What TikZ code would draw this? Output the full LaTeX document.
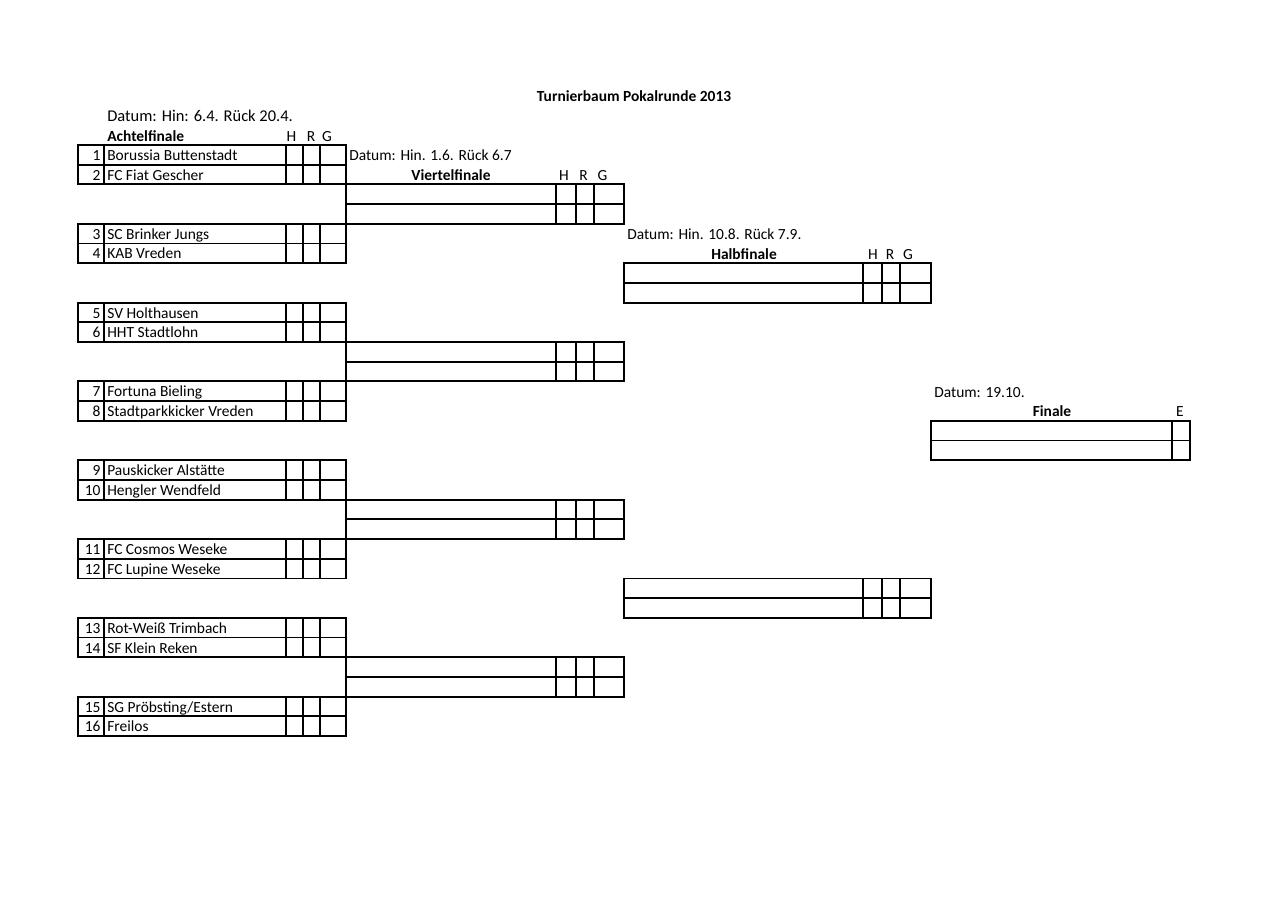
\documentclass[tikz,border=0pt]{standalone}
\usepackage{fontspec}
\setmainfont{Carlito}
\usepackage{tikz}
\usetikzlibrary{positioning}

\begin{document}
\begin{tikzpicture}[
  x=0.25mm, y=-4.925mm,
  font=\fontsize{11}{13}\selectfont,
  cell/.style={rectangle, draw, line width=1.3pt, inner sep=0pt, outer sep=0pt, anchor=north west, minimum height=4.925mm, minimum width=#1},
  txt/.style={anchor=base west, inner sep=0pt},
  numtxt/.style={anchor=base east, inner sep=0pt},
  hdr/.style={anchor=base, inner sep=0pt, font=\fontsize{11}{13}\selectfont\bfseries},
  hrg/.style={anchor=base, inner sep=0pt},
]
\useasboundingbox (0,-7.3604) rectangle (1279,38.528);

% ---- Title ----
\node[hdr] (title) at (634,-2.2) {Turnierbaum Pokalrunde 2013};

% ---- Achtelfinale (left) ----
\node[txt, font=\fontsize{11.7}{13}\selectfont] (af-date) at (107,-1.2) {Datum: Hin: 6.4. Rück 20.4.};
\node[txt, font=\fontsize{11}{13}\selectfont\bfseries] (af-head) at (107,-0.2) {Achtelfinale};
\node[hrg] (af-h) at (291.5,-0.2) {H};
\node[hrg] (af-r) at (311,-0.2) {R};
\node[hrg] (af-g) at (327,-0.2) {G};

\foreach \n/\team in {1/Borussia Buttenstadt, 2/FC Fiat Gescher, 3/SC Brinker Jungs, 4/KAB Vreden,
    5/SV Holthausen, 6/HHT Stadtlohn, 7/Fortuna Bieling, 8/Stadtparkkicker Vreden,
    9/Pauskicker Alstätte, 10/Hengler Wendfeld, 11/FC Cosmos Weseke, 12/FC Lupine Weseke,
    13/Rot-Weiß Trimbach, 14/SF Klein Reken, 15/{SG Pröbsting/Estern}, 16/Freilos} {
  \pgfmathtruncatemacro{\rw}{4*floor((\n-1)/2)+mod(\n-1,2)}
  \node[cell=6.5mm] (af\n) at (78,\rw) {};
  \node[cell=45.5mm, right=0pt of af\n] (af\n-name) {};
  \node[cell=4.25mm, right=0pt of af\n-name] (af\n-h) {};
  \node[cell=4.25mm, right=0pt of af\n-h] (af\n-r) {};
  \node[cell=6.5mm, right=0pt of af\n-r] (af\n-g) {};
  \node[numtxt] (af\n-nr) at ([xshift=-0.8mm, yshift=3pt]af\n.south east) {\n};
  \node[txt] (af\n-team) at ([xshift=0.75mm, yshift=3pt]af\n-name.south west) {\team};
}

% ---- Viertelfinale ----
\node[txt] (vf-date) at (349,0.8) {Datum: Hin. 1.6. Rück 6.7};
\node[hdr] (vf-head) at (451,1.8) {Viertelfinale};
\node[hrg] (vf-h) at (564,1.8) {H};
\node[hrg] (vf-r) at (583.5,1.8) {R};
\node[hrg] (vf-g) at (602.5,1.8) {G};

\foreach \k in {0,...,3} {
  \pgfmathtruncatemacro{\rw}{2+8*\k}
  \foreach \j in {0,1} {
    \node[cell=52.5mm] (vf\k-\j) at (346,\rw+\j) {};
    \node[cell=5mm, right=0pt of vf\k-\j] (vf\k-\j-h) {};
    \node[cell=4.5mm, right=0pt of vf\k-\j-h] (vf\k-\j-r) {};
    \node[cell=7.5mm, right=0pt of vf\k-\j-r] (vf\k-\j-g) {};
  }
}

% ---- Halbfinale ----
\node[txt] (hf-date) at (627,4.8) {Datum: Hin. 10.8. Rück 7.9.};
\node[hdr] (hf-head) at (744,5.8) {Halbfinale};
\node[hrg] (hf-h) at (873,5.8) {H};
\node[hrg] (hf-r) at (890,5.8) {R};
\node[hrg] (hf-g) at (908,5.8) {G};

\foreach \k in {0,1} {
  \pgfmathtruncatemacro{\rw}{6+16*\k}
  \foreach \j in {0,1} {
    \node[cell=59.75mm] (hf\k-\j) at (624,\rw+\j) {};
    \node[cell=4.75mm, right=0pt of hf\k-\j] (hf\k-\j-h) {};
    \node[cell=4.5mm, right=0pt of hf\k-\j-h] (hf\k-\j-r) {};
    \node[cell=7.75mm, right=0pt of hf\k-\j-r] (hf\k-\j-g) {};
  }
}

% ---- Finale (right) ----
\node[txt] (fi-date) at (934,12.8) {Datum: 19.10.};
\node[hdr] (fi-head) at (1052,13.8) {Finale};
\node[hrg] (fi-e) at (1180,13.8) {E};

\foreach \j in {0,1} {
  \node[cell=60.25mm] (fi-\j) at (931,14+\j) {};
  \node[cell=4.5mm, right=0pt of fi-\j] (fi-\j-e) {};
}

\end{tikzpicture}
\end{document}
